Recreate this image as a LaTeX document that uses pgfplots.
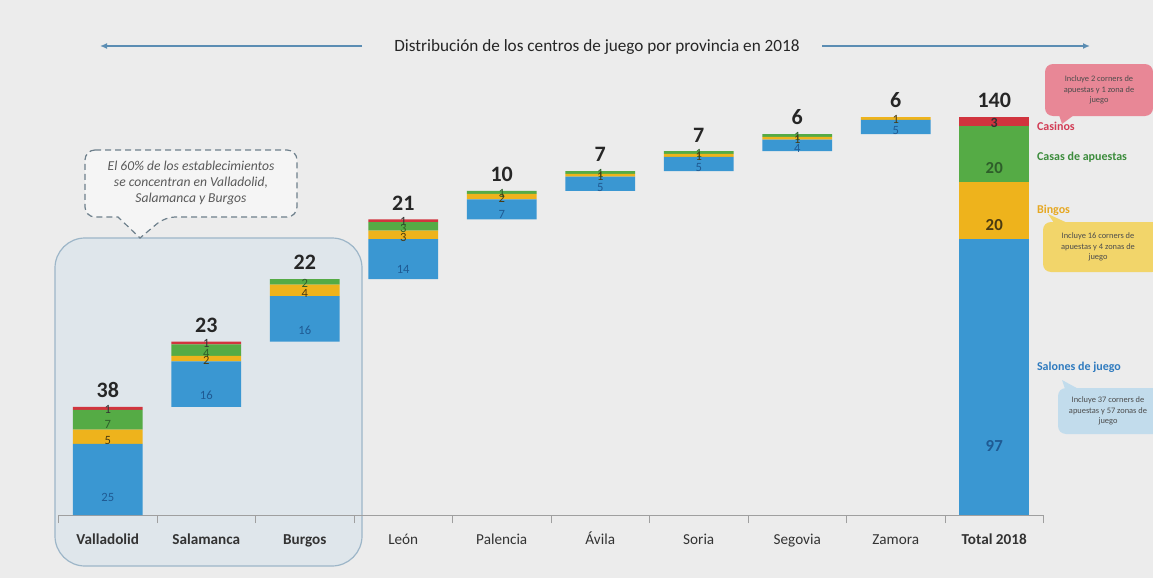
\documentclass[border=0pt]{standalone}
\usepackage{pgfplots}
\pgfplotsset{compat=1.18}
\usepackage{pgfplotstable}
\usepackage{fontspec}
\setmainfont{Carlito}
\usetikzlibrary{arrows.meta}
\definecolor{cblue}{HTML}{3A97D2}
\definecolor{cyel}{HTML}{EEB31C}
\definecolor{cgreen}{HTML}{55AB45}
\definecolor{cred}{HTML}{D1343E}
\definecolor{bg}{HTML}{ECECEC}
\definecolor{region}{HTML}{DFE6EB}
\definecolor{regionb}{HTML}{9DB6C8}
\definecolor{arrowc}{HTML}{5B8DB3}
\definecolor{txt}{HTML}{333333}
\definecolor{tblue}{HTML}{1F5A93}
\definecolor{tgreen}{HTML}{2E5E2A}
\definecolor{tyel}{HTML}{4A3A10}
\definecolor{pinkbox}{HTML}{E88796}
\definecolor{yelbox}{HTML}{F2D56A}
\definecolor{bluebox}{HTML}{C2DCEC}
\definecolor{lred}{HTML}{D23C55}
\definecolor{lgreen}{HTML}{3C8C3C}
\definecolor{lyel}{HTML}{E6A823}
\definecolor{lblue}{HTML}{2F7BBF}

\pgfplotstableread{
x base sal bin cas csn tot
0 0   25 5 7 1 38
1 38  16 2 4 1 23
2 61  16 4 2 0 22
3 83  14 3 3 1 21
4 104 7  2 1 0 10
5 114 5  1 1 0 7
6 121 5  1 1 0 7
7 128 4  1 1 0 6
8 134 5  1 0 0 6
}\prov
\pgfplotstableread{
x base sal bin cas csn tot
9 0 97 20 20 3 140
}\total

\pgfplotsset{
  geo/.style={width=492.5pt,height=199pt,scale only axis,
    at={(29.25pt,-257.5pt)},anchor=south west,
    xmin=-0.5,xmax=9.5,ymin=0,ymax=140,clip=false,
    /pgf/number format/assume math mode=true},
  wf/.style={geo, ybar stacked, bar width=0.71},
  seg/.style n args={4}{fill=#1, draw=none,
    nodes near coords={\pgfmathtruncatemacro\tmpv{\segv}\ifnum\tmpv>0 \tmpv\fi},
    point meta=\thisrow{#2},
    visualization depends on={\thisrow{#2}\as\segv},
    every node near coord/.append style={shift={(axis direction cs:0,-\segv/4)},
      anchor=center, inner sep=0pt, font=#4, text=#3}},
  topl/.style={only marks, mark=none,
    nodes near coords={\pgfmathprintnumber{\pgfplotspointmeta}},
    point meta=\thisrow{tot},
    every node near coord/.append style={anchor=south, yshift=1pt,
      font=\fontsize{11}{12}\selectfont\bfseries, text=black!85}},
}

\begin{document}
\begin{tikzpicture}
\clip (0,0) rectangle (576.5pt,-289pt);
\begin{scope}[x=0.5pt,y=-0.5pt]
  \fill[bg] (0,0) rectangle (1153,578);
  \draw[regionb, fill=region, rounded corners=15pt, line width=0.6pt] (55,238) rectangle (362,566);
  \draw[regionb!70!black, densely dashed, fill=bg!50!white, line width=0.6pt]
     [rounded corners=5pt] (85,150) -- (297,150) -- (297,217) -- (165,217)
     [sharp corners] -- (140,238) -- (118,217)
     [rounded corners=5pt] -- (85,217) -- cycle;
  \node[align=center, font=\fontsize{6.8}{8.2}\selectfont\itshape, text=black!65] at (191,183)
     {El 60\% de los establecimientos\\se concentran en Valladolid,\\Salamanca y Burgos};
  \node[font=\fontsize{8.6}{10}\selectfont, text=black!85] at (597,47)
     {Distribución de los centros de juego por provincia en 2018};
  \draw[arrowc, line width=0.8pt, -{Latex[length=3.5pt,width=3pt]}] (362,46) -- (100,46);
  \draw[arrowc, line width=0.8pt, -{Latex[length=3.5pt,width=3pt]}] (822,46) -- (1090,46);
\end{scope}

\begin{axis}[wf,
  axis x line=bottom, axis y line=none,
  x axis line style={-, draw=gray!75},
  xtick={0,...,9},
  xticklabels={\textbf{Valladolid},\textbf{Salamanca},\textbf{Burgos},León,Palencia,Ávila,Soria,Segovia,Zamora,\textbf{Total 2018}},
  typeset ticklabels with strut,
  minor xtick={-0.5,0.5,...,9.5},
  major tick length=0pt, minor tick length=4pt,
  tick align=outside,
  every minor tick/.append style={draw=gray!75},
  xticklabel style={font=\fontsize{7.6}{9}\selectfont, text=txt, yshift=-5pt},
]
\addplot[draw=none, fill=none] table[x=x,y=base]{\prov};
\addplot[seg={cblue}{sal}{tblue}{\fontsize{6.3}{7}\selectfont}] table[x=x,y=sal]{\prov};
\addplot[seg={cyel}{bin}{tyel}{\fontsize{6.3}{7}\selectfont}] table[x=x,y=bin]{\prov};
\addplot[seg={cgreen}{cas}{tgreen}{\fontsize{6.3}{7}\selectfont}] table[x=x,y=cas]{\prov};
\addplot[seg={cred}{csn}{black!80}{\fontsize{6.3}{7}\selectfont}] table[x=x,y=csn]{\prov};
\end{axis}

\begin{axis}[wf, hide axis]
\addplot[draw=none, fill=none] table[x=x,y=base]{\total};
\addplot[seg={cblue}{sal}{tblue}{\fontsize{8.4}{9}\selectfont\bfseries}] table[x=x,y=sal]{\total};
\addplot[seg={cyel}{bin}{tyel}{\fontsize{8.4}{9}\selectfont\bfseries}] table[x=x,y=bin]{\total};
\addplot[seg={cgreen}{cas}{tgreen}{\fontsize{8.4}{9}\selectfont\bfseries}] table[x=x,y=cas]{\total};
\addplot[seg={cred}{csn}{black!80}{\fontsize{7}{8}\selectfont\bfseries}] table[x=x,y=csn]{\total};
\end{axis}

\begin{axis}[geo, hide axis]
\addplot[topl] table[x=x,y expr=\thisrow{base}+\thisrow{tot}]{\prov};
\addplot[topl] table[x=x,y expr=\thisrow{base}+\thisrow{tot}]{\total};
\end{axis}

\begin{scope}[x=0.5pt,y=-0.5pt]
  \node[anchor=west, font=\fontsize{6}{7}\selectfont\bfseries, text=lred] at (1030,126) {Casinos};
  \node[anchor=west, font=\fontsize{6}{7}\selectfont\bfseries, text=lgreen] at (1030,157) {Casas de apuestas};
  \node[anchor=west, font=\fontsize{6}{7}\selectfont\bfseries, text=lyel] at (1030,210) {Bingos};
  \node[anchor=west, font=\fontsize{6}{7}\selectfont\bfseries, text=lblue] at (1030,367) {Salones de juego};
  % pink callout
  \fill[pinkbox] (1058,112) -- (1062,124) -- (1078,112) -- cycle;
  \fill[pinkbox, rounded corners=4pt] (1045,64) rectangle (1153,116);
  \node[align=center, font=\fontsize{4.2}{5.2}\selectfont, text=black!70] at (1099,90)
     {Incluye 2 corners de\\apuestas y 1 zona de\\juego};
  % yellow callout
  \fill[yelbox] (1056,226) -- (1048,214) -- (1074,226) -- cycle;
  \fill[yelbox, rounded corners=4pt] (1043,222) rectangle (1160,272);
  \node[align=center, font=\fontsize{4.2}{5.2}\selectfont, text=black!70] at (1098,247)
     {Incluye 16 corners de\\apuestas y 4 zonas de\\juego};
  % blue callout
  \fill[bluebox] (1066,392) -- (1062,380) -- (1084,392) -- cycle;
  \fill[bluebox, rounded corners=4pt] (1058,388) rectangle (1170,434);
  \node[align=center, font=\fontsize{4.2}{5.2}\selectfont, text=black!70] at (1108,411)
     {Incluye 37 corners de\\apuestas y 57 zonas de\\juego};
\end{scope}
\end{tikzpicture}
\end{document}
